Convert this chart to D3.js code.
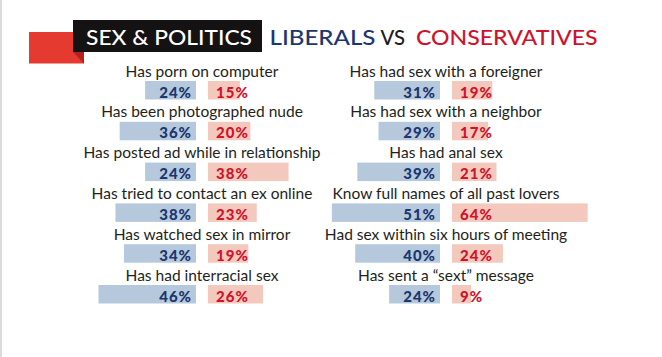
<!DOCTYPE html>
<html><head><meta charset="utf-8">
<script src="https://cdn.jsdelivr.net/npm/d3@7"></script>
<style>
html,body{margin:0;padding:0;background:#fff;}
svg{display:block;}
</style></head>
<body>
<svg id="chart" width="662" height="357"></svg>
<script>
// ---- data ----
const leftLabels = ["Has porn on computer","Has been photographed nude","Has posted ad while in relationship","Has tried to contact an ex online","Has watched sex in mirror","Has had interracial sex"];
const leftLiberals = [24,36,24,38,34,46];
const leftConservatives = [15,20,38,23,19,26];
const rightLabels = ["Has had sex with a foreigner","Has had sex with a neighbor","Has had anal sex","Know full names of all past lovers","Had sex within six hours of meeting","Has sent a \u201Csext\u201D message"];
const rightLiberals = [31,29,39,51,40,24];
const rightConservatives = [19,17,21,64,24,9];
const titleParts = ["SEX & POLITICS","LIBERALS","VS","CONSERVATIVES"];

const svg = d3.select("#chart");
const W = 662, H = 357;

// frame line on left
svg.append("line").attr("x1",1).attr("x2",1).attr("y1",0).attr("y2",H)
  .attr("stroke","#cfcfcf").attr("stroke-width",1.5);

// ---- title ----
svg.append("rect").attr("x",29).attr("y",32).attr("width",55).attr("height",31.5).attr("fill","#e53a2f");
svg.append("path").attr("d","M73,52 L84,52 L84,63.5 Z").attr("fill","#b3221f");
svg.append("rect").attr("x",73).attr("y",20).attr("width",189).attr("height",32).attr("fill","#141213");

const titleFont = "Lato, 'Open Sans', sans-serif";
const tspec = [
  {t:titleParts[0], x:86, w:166, c:"#ffffff"},
  {t:titleParts[1], x:269.5, w:106, c:"#1b3670"},
  {t:titleParts[2], x:380.5, w:24.5, c:"#1c1c1c"},
  {t:titleParts[3], x:416, w:181.5, c:"#d0132b"}
];
svg.selectAll("text.title").data(tspec).join("text")
  .attr("class","title")
  .attr("x",d=>d.x).attr("y",44.5)
  .attr("font-family",titleFont).attr("font-size",20.5).attr("font-weight",500)
  .attr("fill",d=>d.c)
  .attr("textLength",d=>d.w).attr("lengthAdjust","spacingAndGlyphs")
  .text(d=>d.t);

// ---- scales ----
const x = d3.scaleLinear().domain([0,100]).range([0,212]);
const y = d3.scaleBand().domain(d3.range(6)).range([81, 81+5*40.8+18.5]).paddingInner(0.547).paddingOuter(0);

const labelFont = "Lato, 'Open Sans', sans-serif";
// fit label font so "Has porn on computer" is ~153px wide
const probe = svg.append("text").attr("font-family",labelFont).attr("font-size",16).text(leftLabels[0]);
const pw = probe.node().getComputedTextLength();
probe.remove();
const labelSize = pw > 0 ? 16*153/pw : 16;

const columns = [
  {center:202, labels:leftLabels, lib:leftLiberals, con:leftConservatives},
  {center:446, labels:rightLabels, lib:rightLiberals, con:rightConservatives}
];

columns.forEach(col=>{
  const g = svg.append("g");
  const blueEnd = col.center - 6, redStart = col.center + 6;
  const rows = d3.range(6).map(i=>({i, label:col.labels[i], lib:col.lib[i], con:col.con[i]}));

  g.selectAll("rect.lib").data(rows).join("rect")
    .attr("class","lib")
    .attr("x",d=>blueEnd - x(d.lib)).attr("y",d=>y(d.i))
    .attr("width",d=>x(d.lib)).attr("height",y.bandwidth())
    .attr("fill","#b6c9dc");
  g.selectAll("rect.con").data(rows).join("rect")
    .attr("class","con")
    .attr("x",redStart).attr("y",d=>y(d.i))
    .attr("width",d=>x(d.con)).attr("height",y.bandwidth())
    .attr("fill","#f4c9bd");

  g.selectAll("text.label").data(rows).join("text")
    .attr("class","label")
    .attr("x",col.center).attr("y",d=>y(d.i)-4.5)
    .attr("text-anchor","middle")
    .attr("font-family",labelFont).attr("font-size",labelSize)
    .attr("fill","#231f20")
    .text(d=>d.label);

  g.selectAll("text.vlib").data(rows).join("text")
    .attr("class","vlib")
    .attr("x",blueEnd-4).attr("y",d=>y(d.i)+16.5)
    .attr("text-anchor","end")
    .attr("font-family",labelFont).attr("font-size",15).attr("font-weight",900)
    .attr("letter-spacing",1)
    .attr("fill","#1a3670")
    .text(d=>d.lib+"%");
  g.selectAll("text.vcon").data(rows).join("text")
    .attr("class","vcon")
    .attr("x",redStart+8).attr("y",d=>y(d.i)+16.5)
    .attr("text-anchor","start")
    .attr("font-family",labelFont).attr("font-size",15).attr("font-weight",900)
    .attr("letter-spacing",1)
    .attr("fill","#d0132b")
    .text(d=>d.con+"%");
});
</script>
</body></html>
